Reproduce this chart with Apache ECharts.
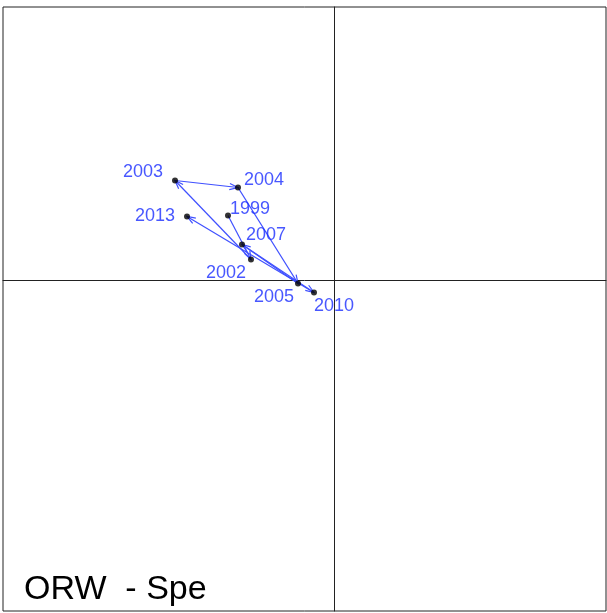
<!DOCTYPE html>
<html>
<head>
<meta charset="utf-8">
<script src="https://cdn.jsdelivr.net/npm/echarts@6/dist/echarts.min.js"></script>
<style>
  html, body { margin: 0; padding: 0; background: #fff; }
  #chart { width: 607px; height: 613px; }
</style>
</head>
<body>
<div id="chart"></div>
<script>
// years, in trajectory order
var years = ['1999', '2002', '2003', '2004', '2005', '2007', '2010', '2013'];
var xs = [-1.06, -0.83, -1.59, -0.96, -0.36, -0.92, -0.20, -1.47];
var ys = [0.65, 0.21, 1.00, 0.93, -0.03, 0.36, -0.12, 0.64];

// where each label sits relative to its point (px)
var labelOffsets = [[22, -6], [-25, 14], [-32, -8], [26, -7], [-24, 14], [24, -9], [20, 14], [-32, 0]];

var pts = [];
for (var i = 0; i < years.length; i++) {
    pts.push({
        name: years[i],
        value: [xs[i], ys[i]],
        label: { offset: labelOffsets[i] }
    });
}

var segs = [];
for (var i = 0; i < years.length - 1; i++) {
    segs.push([xs[i], ys[i], xs[i + 1], ys[i + 1]]);
}

var lineColor = '#3f50ff';

function drawArrow(params, api) {
    var a = api.coord([api.value(0), api.value(1)]);
    var b = api.coord([api.value(2), api.value(3)]);
    var ang = Math.atan2(b[1] - a[1], b[0] - a[0]);
    var len = 9, spread = Math.PI / 9;
    var h1 = [b[0] - len * Math.cos(ang - spread), b[1] - len * Math.sin(ang - spread)];
    var h2 = [b[0] - len * Math.cos(ang + spread), b[1] - len * Math.sin(ang + spread)];
    var st = { stroke: lineColor, lineWidth: 1.2, fill: null };
    return {
        type: 'group',
        children: [
            { type: 'line', shape: { x1: a[0], y1: a[1], x2: b[0], y2: b[1] }, style: st },
            { type: 'polyline', shape: { points: [h1, b, h2] }, style: st }
        ]
    };
}

var chart = echarts.init(document.getElementById('chart'));
chart.setOption({
    animation: false,
    title: {
        text: 'ORW  - Spe',
        left: 19,
        top: 568,
        textStyle: { fontFamily: 'Liberation Sans', fontSize: 34, fontWeight: 'normal', color: '#000' }
    },
    grid: {
        left: 3, top: 7, width: 603, height: 604,
        show: true, borderColor: '#222', borderWidth: 1, backgroundColor: '#fff'
    },
    xAxis: {
        type: 'value', min: -3.31, max: 2.72,
        axisLine: { onZero: true, lineStyle: { color: '#222', width: 1 } },
        axisTick: { show: false }, axisLabel: { show: false }, splitLine: { show: false }
    },
    yAxis: {
        type: 'value', min: -3.305, max: 2.735,
        axisLine: { onZero: true, lineStyle: { color: '#222', width: 1 } },
        axisTick: { show: false }, axisLabel: { show: false }, splitLine: { show: false }
    },
    series: [
        {
            type: 'custom',
            renderItem: drawArrow,
            data: segs,
            silent: true,
            z: 2
        },
        {
            type: 'scatter',
            data: pts,
            symbol: 'circle',
            symbolSize: 6,
            itemStyle: { color: '#000' },
            z: 3,
            label: {
                show: true,
                position: 'inside',
                formatter: '{b}',
                color: '#1a2dff',
                fontFamily: 'Liberation Sans',
                fontSize: 18,
                align: 'center',
                verticalAlign: 'middle'
            }
        }
    ]
});
</script>
</body>
</html>
